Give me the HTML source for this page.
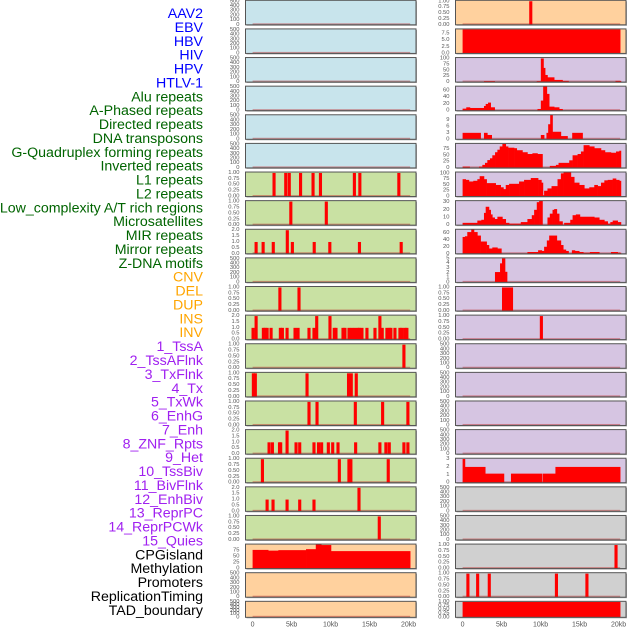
<!DOCTYPE html>
<html><head><meta charset="utf-8"><style>
body{margin:0;background:#fff;width:630px;height:630px;overflow:hidden;font-family:"Liberation Sans",sans-serif}
svg{position:absolute;left:0;top:0}
</style></head><body>
<svg id="chart" width="630" height="630" viewBox="0 0 630 630"></svg>
<script>
// ---- labels ----
const trackNames = ["AAV2","EBV","HBV","HIV","HPV","HTLV-1","Alu repeats","A-Phased repeats","Directed repeats","DNA transposons","G-Quadruplex forming repeats","Inverted repeats","L1 repeats","L2 repeats","Low_complexity A/T rich regions","Microsatellites","MIR repeats","Mirror repeats","Z-DNA motifs","CNV","DEL","DUP","INS","INV","1_TssA","2_TssAFlnk","3_TxFlnk","4_Tx","5_TxWk","6_EnhG","7_Enh","8_ZNF_Rpts","9_Het","10_TssBiv","11_BivFlnk","12_EnhBiv","13_ReprPC","14_ReprPCWk","15_Quies","CPGisland","Methylation","Promoters","ReplicationTiming","TAD_boundary"];
const trackGroups = ["v","v","v","v","v","v","r","r","r","r","r","r","r","r","r","r","r","r","r","s","s","s","s","s","c","c","c","c","c","c","c","c","c","c","c","c","c","c","c","o","o","o","o","o"];
const xTickValues = [0,5,10,15,20];
const xTickLabels = ["0","5kb","10kb","15kb","20kb"];

// ---- series (kb positions, values) ----
const emptyTicks = [0,100,200,300,400,500];
const unitTicks = [0,0.25,0.5,0.75,1];
const twoTicks = [0,0.5,1,1.5,2];
// left column spikes [centerKb, height]
const sp06 = [[2.75,1],[4.25,1],[4.7,1],[6.15,1],[7.75,1],[8.7,1],[13.05,1],[13.75,1],[18.75,1]];
const sp07 = [[4.9,1],[9.45,1]];
const sp08 = [[0.45,1],[1.35,1],[2.65,1],[4.45,2],[5.1,1],[7.9,1],[9.9,1],[13.7,1],[19.05,1]];
const sp10 = [[3.5,1],[5.95,1]];
const sp11 = [[0.06,1],[0.45,2],[1.38,1],[1.6,1],[1.86,1],[2.37,1],[3.56,1],[3.82,1],[4.42,1],[5.44,1],[5.83,1],[7.23,1],[7.87,1],[8.22,2],[9.92,2],[10.47,1],[10.69,1],[11.59,1],[11.84,1],[12.36,1],[12.74,1],[13.12,1],[13.51,1],[13.68,1],[14.02,1],[14.66,1],[15.69,1],[16.32,2],[16.62,1],[17.22,1],[17.52,1],[17.73,1],[18.25,1],[18.89,1],[19.14,1],[19.53,1],[19.78,1]];
const sp12 = [[19.4,1]];
const sp13 = [[0.1,1],[0.35,1],[6.98,1],[12.3,1],[12.65,1],[13.29,1]];
const sp14 = [[7.23,1],[8.26,1],[13.17,1],[16.67,1],[19.91,1]];
const sp15 = [[2.11,1],[2.54,1],[3.45,1],[3.6,1],[4.42,2],[5.57,1],[6.04,1],[7.87,1],[8.45,1],[8.85,1],[9.71,1],[10.27,1],[10.95,1],[13.21,1],[16.32,1],[17.09,1],[17.52,1],[19.4,1],[19.91,1]];
const sp16 = [[1.26,1],[11.12,1],[12.35,1],[12.6,1],[17.39,1]];
const sp17 = [[1.86,1],[2.62,1],[4.42,1],[6.04,1],[7.87,1],[13.64,2]];
const sp18 = [[16.24,1]];
const seg19 = [[0,2,77],[2,3.3,74],[3.3,6.85,76],[6.85,8.1,80],[8.1,8.8,101],[8.8,10.05,97],[10.05,20.2,72]];
// right column
const sp22 = [[8.74,1]];
const seg23 = [[0,20.2,9]];
const seg24 = [[2.74,4.11,4],[9.5,10.03,4],[10.03,10.37,100],[10.37,10.58,60],[10.58,10.88,30],[10.88,11.74,20],[11.74,12.81,9],[12.81,13.58,5],[19.6,20.3,5]];
const seg25 = [[0,0.47,6],[0.47,0.94,10],[0.94,2.74,8],[2.74,2.96,14],[2.96,3.26,20],[3.26,3.6,24],[3.6,4.11,10],[9.6,10.03,5],[10.03,10.33,30],[10.33,10.8,73],[10.8,11.1,50],[11.1,11.74,12],[11.74,12.38,10],[12.38,12.81,5]];
const seg26 = [[0,2.31,3],[2.74,3.17,3],[3.17,3.73,2],[10.03,10.45,2],[10.75,10.97,3],[10.97,11.23,7],[11.23,11.53,11.4],[11.53,12.6,3.5],[12.6,13.45,1.5],[14.05,15.38,3]];
const seg27 = [[0,0.9,5],[0.9,2.1,1],[2.1,2.53,5],[2.53,2.87,12],[2.87,3.17,20],[3.17,3.51,31],[3.51,3.81,38],[3.81,4.16,50],[4.16,4.46,62],[4.46,4.76,72],[4.76,5.1,85],[5.1,5.53,95],[5.53,5.83,85],[5.83,6.6,80],[6.6,6.94,78],[6.94,7.67,70],[7.67,8.31,62],[8.31,8.95,55],[8.95,9.6,58],[9.6,10.24,55],[11.18,11.96,8],[11.96,12.3,12],[12.3,13.67,20],[13.67,14.1,30],[14.1,14.74,50],[14.74,15.17,55],[15.17,15.51,65],[15.51,16.24,90],[16.24,16.88,85],[16.88,17.74,78],[17.74,18.25,70],[18.25,19.02,62],[19.02,19.67,60],[19.67,20.09,65],[20.09,20.3,68]];
const seg28 = [[0,0.4,75],[0.4,0.81,72],[0.81,1.37,65],[1.37,1.89,68],[1.89,2.19,75],[2.19,2.74,88],[2.74,3.08,75],[3.08,4.24,58],[4.24,4.88,50],[4.88,5.23,40],[5.23,5.53,32],[5.53,5.96,50],[5.96,7.24,55],[7.24,7.88,65],[7.88,8.74,72],[8.74,9.68,80],[9.68,10.1,72],[10.1,10.3,60],[10.3,10.45,5],[10.45,10.88,25],[10.88,11.4,35],[11.4,12.17,45],[12.17,12.6,75],[12.6,12.94,100],[12.94,13.88,105],[13.88,14.31,85],[14.31,14.95,60],[14.95,15.6,50],[15.6,16.24,35],[16.24,16.88,40],[16.88,17.31,50],[17.31,17.74,45],[17.74,18.17,60],[18.17,18.6,70],[18.6,19.24,72],[19.24,19.67,78],[19.67,20.09,72],[20.09,20.3,68]];
const seg29 = [[0,0.3,3],[0.3,2.9,2],[2.9,5.3,1.15],[6.2,10.2,1.15],[10.3,11.9,1.15],[11.9,20.2,2]];
const seg29b = [[0,0.3,48],[0.3,0.6,50],[0.6,1.11,62],[1.11,1.46,70],[1.46,1.89,62],[1.89,2.31,52],[2.31,3.08,35],[3.08,3.38,25],[3.38,3.81,15],[3.81,4.46,18],[4.46,4.97,15],[8.31,9.68,5],[9.68,10.15,10],[10.15,10.45,8],[10.45,10.8,20],[10.8,11.1,38],[11.1,12.08,52],[12.08,12.6,38],[12.6,12.9,25],[12.9,13.24,12],[13.24,13.58,8],[14.01,14.4,10],[14.4,14.95,8],[14.95,15.47,5],[15.47,16.32,3],[16.32,17.52,5],[19.02,19.88,5],[19.88,20.3,3]];
const seg30 = [[4.15,4.8,2.15],[4.8,5.05,3.96],[5.05,5.44,5],[5.44,5.7,2.2]];
const seg31 = [[5.05,6.43,1]];
const sp32 = [[10.1,1]];
const sp40 = [[19.67,1]];
const sp41 = [[0.68,1],[1.93,1],[3.42,1],[12.03,1],[15.94,1]];
const seg42 = [[0,20.2,1]];
const seg27b = [[0,1.89,3],[1.89,2.4,6],[2.4,2.74,7],[2.74,2.96,16],[2.96,3.38,24],[3.38,3.6,20],[3.6,3.81,14],[3.81,4.11,10],[4.11,4.46,8],[4.46,5.1,11],[5.1,5.53,8],[5.53,5.96,3],[5.96,7.46,2],[7.46,8.31,4],[8.31,8.87,8],[8.87,9.17,13],[9.17,9.51,20],[9.51,9.81,30],[9.81,10.24,32],[10.88,11.18,10],[11.18,11.53,15],[11.53,11.74,20],[11.74,12.08,21],[12.08,12.38,15],[12.38,12.81,5],[13.02,13.8,3],[13.8,14.1,7],[14.1,14.52,13],[14.52,15.04,14],[15.04,16.88,11],[16.88,17.52,10],[17.52,18.17,7],[18.17,18.6,5],[18.6,18.94,2],[18.94,19.24,4],[19.24,19.88,6],[19.88,20.3,4]];

const BG = {v:"#c8e4ec", r:"#c9e1a3", s:"#ffd19e", c:"#d6c5e2", o:"#d0d0d0"};
// panels: [trackIndex, ymax, ticks, tickDecimals, spikes, segments]
const panels = [
 [0,520,emptyTicks,0,[],[]],[1,520,emptyTicks,0,[],[]],[2,520,emptyTicks,0,[],[]],[3,520,emptyTicks,0,[],[]],[4,520,emptyTicks,0,[],[]],[5,520,emptyTicks,0,[],[]],
 [6,1.04,unitTicks,2,sp06,[]],[7,1.04,unitTicks,2,sp07,[]],[8,2.08,twoTicks,1,sp08,[]],[9,520,emptyTicks,0,[],[]],
 [10,1.04,unitTicks,2,sp10,[]],[11,2.08,twoTicks,1,sp11,[]],[12,1.04,unitTicks,2,sp12,[]],[13,1.04,unitTicks,2,sp13,[]],
 [14,1.04,unitTicks,2,sp14,[]],[15,2.08,twoTicks,1,sp15,[]],[16,1.04,unitTicks,2,sp16,[]],[17,2.08,twoTicks,1,sp17,[]],
 [18,1.04,unitTicks,2,sp18,[]],[19,101,[0,25,50,75],0,[],seg19],[20,520,emptyTicks,0,[],[]],[21,520,emptyTicks,0,[],[]],
 [22,1.04,unitTicks,2,sp22,[]],[23,9.2,[0,2.5,5,7.5],1,[],seg23],[24,104,[0,25,50,75,100],0,[],seg24],[25,73,[0,20,40,60],0,[],seg25],
 [26,11.4,[0,3,6,9],0,[],seg26],[27,97,[0,25,50,75],0,[],seg27],[28,106,[0,25,50,75,100],0,[],seg28],[29,32,[0,10,20,30],0,[],seg27b],
 [30,70,[0,20,40,60],0,[],seg29b],[31,5.1,[0,1,2,3,4,5],0,[],seg30],[32,1.04,unitTicks,2,[],seg31],[33,1.04,unitTicks,2,sp32,[]],
 [34,520,emptyTicks,0,[],[]],[35,520,emptyTicks,0,[],[]],[36,520,emptyTicks,0,[],[]],[37,520,emptyTicks,0,[],seg29.slice(0,0)],
 [38,3.1,[0,1,2,3],0,[],seg29],[39,520,emptyTicks,0,[],[]],[40,520,emptyTicks,0,[],[]],[41,1.04,unitTicks,2,sp40,[]],
 [42,1.04,unitTicks,2,sp41,[]],[43,1.04,unitTicks,2,[],seg42]
];

const NS="http://www.w3.org/2000/svg";
const svg=document.getElementById('chart');
function mk(tag,attrs,parent){const e=document.createElementNS(NS,tag);for(const k in attrs)e.setAttribute(k,attrs[k]);(parent||svg).appendChild(e);return e;}
const COLORS={v:"#0000ff",r:"#006400",s:"#ffa500",c:"#a020f0",o:"#000000"};

// left labels
trackNames.forEach((n,i)=>{
  const t=mk('text',{x:203,y:14+i*13.88,'text-anchor':'end','dominant-baseline':'central','font-size':'14.2',fill:COLORS[trackGroups[i]]});
  t.textContent=n;
  
  
});

function colX(col){return col===0?245.5:455.5;}
const PW=170.5, K=7.8;
function xScale(col,kb){return colX(col)+7.1+kb*K;}

panels.forEach(p=>{
  const [ti,ymax,ticks,dec,spikes,segs]=p;
  const col=ti<22?0:1, row=ti%22;
  const top=row*28.62+0.3, h=row===21?16:24.5, bot=top+h;
  const left=colX(col);
  const yS=v=>bot-v/ymax*h;
  const g=mk('g',{});
  
  
  mk('rect',{x:left+1,y:top+1,width:PW,height:h,fill:'#a8a8a8'},g);
  mk('rect',{x:left,y:top,width:PW,height:h,fill:BG[trackGroups[ti]]},g);
  const cid='c'+ti;
  const cp=mk('clipPath',{id:cid},g);mk('rect',{x:left,y:top,width:PW,height:h},cp);
  const mg=mk('g',{'clip-path':'url(#'+cid+')'},g);
  mk('rect',{x:xScale(col,0),y:bot-1.5,width:20.2*K,height:1.5,fill:'rgba(190,40,40,0.45)'},mg);
  segs.forEach(s=>{
    const r=mk('rect',{x:xScale(col,s[0]),y:yS(s[2]),width:(s[1]-s[0])*K+0.3,height:bot-yS(s[2]),fill:'#ff0000'},mg);
    
    
  });
  spikes.forEach(s=>{
    const r=mk('rect',{x:xScale(col,s[0]-0.2),y:yS(s[1]),width:0.4*K,height:bot-yS(s[1]),fill:'#ff0000'},mg);
    
    
  });
  mk('rect',{x:left,y:top,width:PW,height:h,fill:'none',stroke:'#555','stroke-width':1},g);
  ticks.forEach(v=>{
    const t=mk('text',{x:left-6,y:yS(v),'text-anchor':'end','dominant-baseline':'central','font-size':'5.8',fill:'#555'},g);
    t.textContent=dec?v.toFixed(dec):String(v);
    
    
  });
});
// x axes
[0,1].forEach(col=>{
  xTickValues.forEach((v,i)=>{
    const t=mk('text',{x:xScale(col,v),y:625,'text-anchor':'middle','dominant-baseline':'central','font-size':'7',fill:'#555'});
    t.textContent=xTickLabels[i];
    
    
  });
});
</script>
</body></html>
